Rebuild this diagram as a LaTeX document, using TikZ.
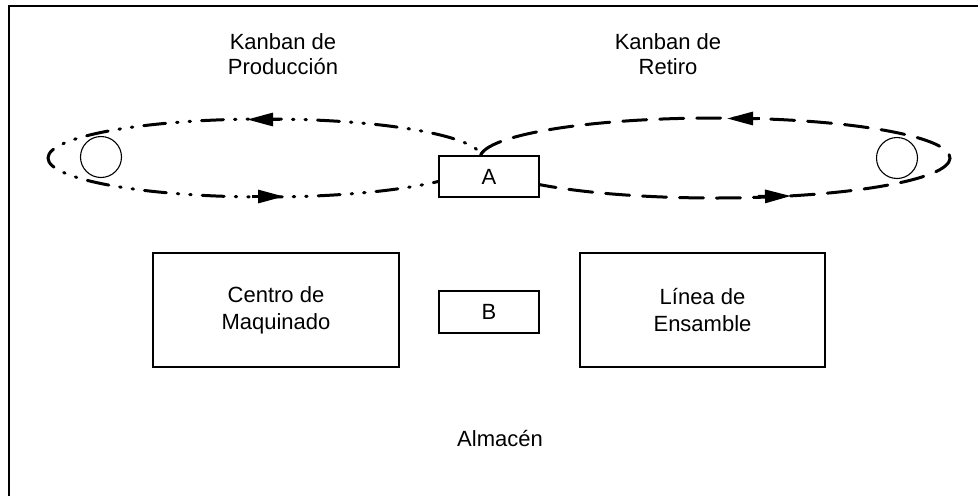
\documentclass[tikz,border=0pt]{standalone}
\usepackage{fontspec}
\setmainfont{Liberation Sans}
\usetikzlibrary{arrows.meta}
\begin{document}
\begin{tikzpicture}[x=1pt,y=-1pt,
  box/.style={draw,line width=2pt,fill=white,inner sep=0pt,align=center,font=\fontsize{22}{27}\selectfont},
  lbl/.style={inner sep=0pt,align=center,font=\fontsize{22}{25}\selectfont},
  ddot/.style={line width=3pt,line cap=round,dash pattern=on 22pt off 11pt on 1.5pt off 11pt on 1.5pt off 11pt,dash phase=23pt},
  dsh/.style={line width=3pt,line cap=round,dash pattern=on 24pt off 13pt},
  tip/.style={-{Triangle[length=26pt,width=13pt]},line width=3pt},
  circ/.style={draw,circle,line width=1.1pt,fill=white,minimum size=41pt,inner sep=0pt}]
\useasboundingbox (0,0) rectangle (978,496);
% frame
\coordinate (fb) at (9,496);
\coordinate (fc) at (9,6);
\coordinate (fr) at (978,6);
\draw[line width=1.4pt] (fb) -- (fc) -- (fr);
% labels
\node[lbl] (kp) at (283,54) {Kanban de\\Producción};
\node[lbl] (kr) at (668,54) {Kanban de\\Retiro};
\node[lbl] (alm) at (500,439) {Almacén};
% loops
\draw[ddot] (265,158) ellipse [x radius=217, y radius=39];
\draw[dsh] (715,158) ++(141:235 and 40) arc [start angle=141, end angle=-180, x radius=235, y radius=40];
\draw[line width=2.6pt] (715,158) ++(141:235 and 40) arc [start angle=141, end angle=190, x radius=235, y radius=40];
% arrows
\coordinate (a1s) at (280,119.5); \coordinate (a1e) at (247,119.5);
\coordinate (a2s) at (252,196.5); \coordinate (a2e) at (284,196.5);
\coordinate (a3s) at (760,118.5); \coordinate (a3e) at (727,118.5);
\coordinate (a4s) at (758,196.5); \coordinate (a4e) at (791,196);
\draw[tip] (a1s) -- (a1e);
\draw[tip] (a2s) -- (a2e);
\draw[tip] (a3s) -- (a3e);
\draw[tip] (a4s) -- (a4e);
% circles
\node[circ] (c1) at (101,157) {};
\node[circ] (c2) at (897,158) {};
% boxes
\node[box,minimum width=100pt,minimum height=41pt] (A) at (489,176.5) {A};
\node[box,minimum width=100pt,minimum height=42pt] (B) at (489,312) {B};
\node[box,minimum width=246pt,minimum height=114pt] (cm) at (276,310) {Centro de\\Maquinado};
\node[box,minimum width=245pt,minimum height=114pt] (le) at (702.5,310) {Línea de\\Ensamble};
\end{tikzpicture}
\end{document}
